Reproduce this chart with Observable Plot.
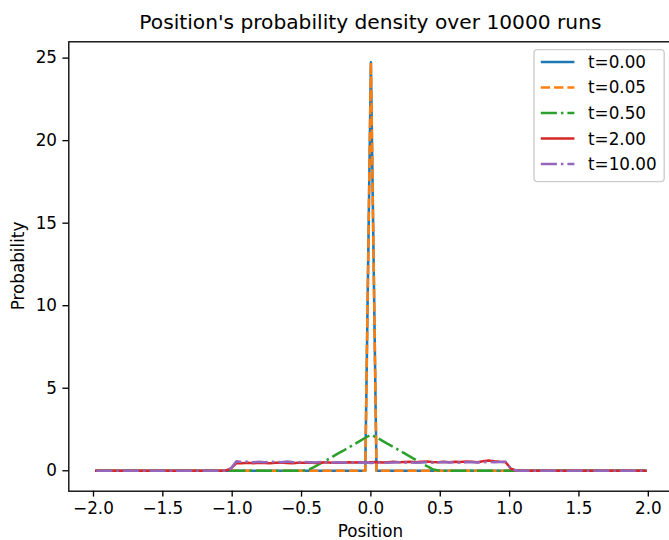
<!DOCTYPE html>
<html>
<head>
<meta charset="utf-8">
<script src="https://cdn.jsdelivr.net/npm/d3@7"></script>
<script src="https://cdn.jsdelivr.net/npm/@observablehq/plot@0.6"></script>
<style>
  html, body { margin: 0; padding: 0; background: #fff; overflow: hidden; }
</style>
</head>
<body>
<div id="chart"></div>
<script>
// ---- data ----
const titleText = "Position's probability density over 10000 runs";
const xLabel = "Position";
const yLabel = "Probability";
const seriesNames = ["t=0.00", "t=0.05", "t=0.50", "t=2.00", "t=10.00"];
const xTicks = [-2.0, -1.5, -1.0, -0.5, 0.0, 0.5, 1.0, 1.5, 2.0];
const yTicks = [0, 5, 10, 15, 20, 25];

// bin centres of 99 equal bins over [-2, 2]
const positions = d3.range(99).map(i => -2 + (i + 0.5) * 4 / 99);

const density_t000 = [
  0,0,0,0,0,0,0,0,0,0,
  0,0,0,0,0,0,0,0,0,0,
  0,0,0,0,0,0,0,0,0,0,
  0,0,0,0,0,0,0,0,0,0,
  0,0,0,0,0,0,0,0,0,24.75,
  0,0,0,0,0,0,0,0,0,0,
  0,0,0,0,0,0,0,0,0,0,
  0,0,0,0,0,0,0,0,0,0,
  0,0,0,0,0,0,0,0,0,0,
  0,0,0,0,0,0,0,0,0
];
const density_t005 = [
  0,0,0,0,0,0,0,0,0,0,
  0,0,0,0,0,0,0,0,0,0,
  0,0,0,0,0,0,0,0,0,0,
  0,0,0,0,0,0,0,0,0,0,
  0,0,0,0,0,0,0,0,0,24.75,
  0,0,0,0,0,0,0,0,0,0,
  0,0,0,0,0,0,0,0,0,0,
  0,0,0,0,0,0,0,0,0,0,
  0,0,0,0,0,0,0,0,0,0,
  0,0,0,0,0,0,0,0,0
];
const density_t050 = [
  0,0,0,0,0,0,0,0,0,0,
  0,0,0,0,0,0,0,0,0,0,
  0,0,0,0,0,0,0,0,0,0,
  0,0,0,0,0,0,0,0.01,0.08,0.25,
  0.44,0.63,0.82,1.02,1.20,1.41,1.60,1.80,2.00,2.18,
  2.02,1.83,1.63,1.44,1.25,1.05,0.86,0.66,0.47,0.28,
  0.10,0.02,0,0,0,0,0,0,0,0,
  0,0,0,0,0,0,0,0,0,0,
  0,0,0,0,0,0,0,0,0,0,
  0,0,0,0,0,0,0,0,0
];
const density_t200 = [
  0,0,0,0,0,0,0,0,0,0,
  0,0,0,0,0,0,0,0,0,0,
  0,0,0,0,0.13,0.47,0.45,0.48,0.46,0.49,
  0.47,0.45,0.48,0.50,0.47,0.46,0.49,0.48,0.50,0.47,
  0.49,0.51,0.48,0.50,0.49,0.51,0.50,0.52,0.49,0.51,
  0.53,0.50,0.52,0.54,0.51,0.53,0.55,0.52,0.54,0.56,
  0.53,0.51,0.54,0.52,0.55,0.53,0.56,0.54,0.52,0.57,
  0.62,0.58,0.55,0.53,0.12,0,0,0,0,0,
  0,0,0,0,0,0,0,0,0,0,
  0,0,0,0,0,0,0,0,0
];
const density_t1000 = [
  0,0,0,0,0,0,0,0,0,0,
  0,0,0,0,0,0,0,0,0,0,
  0,0,0,0,0.14,0.58,0.53,0.55,0.52,0.54,
  0.51,0.55,0.53,0.52,0.56,0.53,0.51,0.54,0.52,0.50,
  0.53,0.51,0.49,0.52,0.50,0.48,0.51,0.49,0.50,0.47,
  0.49,0.51,0.48,0.50,0.52,0.49,0.51,0.48,0.50,0.52,
  0.49,0.51,0.53,0.50,0.52,0.49,0.51,0.53,0.50,0.52,
  0.54,0.51,0.53,0.55,0.13,0,0,0,0,0,
  0,0,0,0,0,0,0,0,0,0,
  0,0,0,0,0,0,0,0,0
];
const seriesValues = [density_t000, density_t005, density_t050, density_t200, density_t1000];
const seriesColors = ["#1f77b4", "#ff7f0e", "#2ca02c", "#d62728", "#9467bd"];
const seriesDash = [null, "9.3,4", "16.1,4,2.5,4", null, "16.1,4,2.5,4"];

seriesValues.forEach((s, k) => { if (s.length !== positions.length) throw new Error("bad length " + k + ": " + s.length); });

// ---- layout ----
const W = 669, H = 540;
const mL = 68.3, mR = -3.5, mT = 41.3, mB = 49.3;
const FS = 16.8;
const LW = 2.52;

const lineMarks = seriesValues.map((vals, k) => {
  const rows = positions.map((p, i) => ({x: p, y: vals[i]}));
  return Plot.line(rows, {
    x: "x", y: "y",
    stroke: seriesColors[k],
    strokeWidth: LW,
    strokeDasharray: seriesDash[k] || undefined,
    strokeLinecap: seriesDash[k] ? "butt" : "square",
    strokeLinejoin: "round"
  });
});

const svg = Plot.plot({
  width: W, height: H,
  marginLeft: mL, marginRight: mR, marginTop: mT, marginBottom: mB,
  style: {fontFamily: "DejaVu Sans", fontSize: FS + "px", background: "white", color: "black", overflow: "hidden"},
  x: {domain: [-2.178, 2.178]},
  y: {domain: [-1.2375, 25.9875]},
  marks: [
    ...lineMarks,
    Plot.frame({stroke: "black", strokeWidth: 1.34}),
    Plot.axisX({ticks: xTicks, tickSize: 5.9, tickPadding: 5.2, tickFormat: d3.format(".1f"), label: null, fontSize: FS, strokeWidth: 1.34, stroke: "black"}),
    Plot.axisY({ticks: yTicks, tickSize: 5.9, tickPadding: 5.9, tickFormat: d3.format("d"), label: null, fontSize: FS, strokeWidth: 1.34, stroke: "black"})
  ]
});
document.getElementById("chart").appendChild(svg);

// ---- title, axis labels, legend ----
const root = d3.select(svg);
const xMid = (mL + (W - mR)) / 2;
root.append("text").attr("x", xMid).attr("y", 28.5).attr("text-anchor", "middle")
  .attr("font-size", 20.2).attr("fill", "black").text(titleText);
root.append("text").attr("x", xMid).attr("y", 537).attr("text-anchor", "middle")
  .attr("font-size", FS).attr("fill", "black").text(xLabel);
root.append("text").attr("transform", `translate(24,${(mT + H - mB) / 2}) rotate(-90)`)
  .attr("text-anchor", "middle").attr("font-size", FS).attr("fill", "black").text(yLabel);

const lg = root.append("g");
const lgX = 534, lgY = 49.7, lgW = 130.2, lgH = 132;
lg.append("rect").attr("x", lgX).attr("y", lgY).attr("width", lgW).attr("height", lgH)
  .attr("rx", 3.4).attr("fill", "white").attr("fill-opacity", 0.8)
  .attr("stroke", "#cccccc").attr("stroke-width", 1.34);
seriesNames.forEach((name, k) => {
  const cy = 61.9 + k * 25.55;
  lg.append("line").attr("x1", 540.8).attr("x2", 574.4).attr("y1", cy).attr("y2", cy)
    .attr("stroke", seriesColors[k]).attr("stroke-width", LW)
    .attr("stroke-dasharray", seriesDash[k]);
  lg.append("text").attr("x", 588).attr("y", cy).attr("dy", "0.36em")
    .attr("text-anchor", "start")
    .attr("font-size", FS).attr("fill", "black").text(name);
});
</script>
</body>
</html>
